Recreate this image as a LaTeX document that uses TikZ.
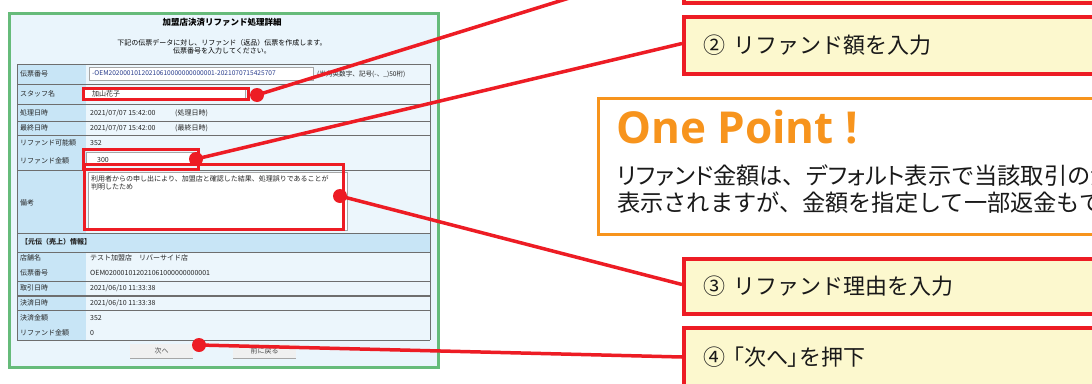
\documentclass[tikz,border=0pt]{standalone}
\usepackage{fontspec}
\setmainfont{Noto Sans CJK JP}
\newfontfamily\opensans{Open Sans}
\newfontfamily\jpprop[RawFeature=+palt]{Noto Sans CJK JP}
\definecolor{scrred}{RGB}{237,28,36}
\definecolor{boxfill}{RGB}{252,248,206}
\definecolor{orange1}{RGB}{247,148,29}
\definecolor{panelgreen}{RGB}{102,187,122}
\definecolor{panelbg}{RGB}{234,245,252}
\definecolor{labelbg}{RGB}{200,229,246}
\definecolor{cellbg}{RGB}{236,246,252}
\definecolor{tline}{RGB}{110,110,110}
\definecolor{inblue}{RGB}{40,60,140}
\newcommand{\kp}[1]{{\jpprop #1}}
\begin{document}
\begin{tikzpicture}[x=1pt,y=-1pt,
  scr/.style={font=\fontsize{7}{8}\selectfont, inner sep=0pt, anchor=west, text=black!85},
  inbox/.style={draw=gray!70, line width=0.6pt, fill=white, anchor=north west, inner sep=0pt},
  callout/.style={draw=scrred, line width=3.5pt, fill=boxfill, anchor=north west, inner xsep=20pt, inner ysep=0pt, align=left, text width=400pt, font=\fontsize{22}{26}\selectfont, text=black!90},
  hl/.style={draw=scrred, line width=3pt, anchor=north west, inner sep=0pt},
  reddot/.style={circle, fill=scrred, minimum size=14pt, inner sep=0pt},
  lead/.style={draw=scrred, line width=3.5pt},
  btn/.style={fill=gray!12, anchor=north west, inner sep=0pt, minimum width=63pt, minimum height=14pt, font=\fontsize{7}{8}\selectfont, text=black!70}]
\useasboundingbox (0,0) rectangle (1092,383);
\clip (0,0) rectangle (1092,383);
\fill[white] (0,0) rectangle (1092,383);

% ---------- screenshot panel ----------
\node[draw=panelgreen, line width=2.5pt, fill=panelbg, anchor=north west, minimum width=429pt, minimum height=354pt, inner sep=0pt] (panel) at (8,12) {};
\node[font=\fontsize{8.5}{10}\selectfont\bfseries, inner sep=0pt] (title) at (222,22) {加盟店決済リファンド処理詳細};
\node[font=\fontsize{7}{8.5}\selectfont, inner sep=0pt, align=center] (sub) at (222,47) {下記の伝票データに対し、リファンド（返品）伝票を作成します。\\伝票番号を入力してください。};

% table background
\fill[labelbg] (17,64) rectangle (86,340);
\fill[cellbg] (86,64) rectangle (430,340);
\fill[labelbg] (17,233) rectangle (430,252);
\foreach \yy in {64,84,104,121,135,170,233,252,281,295,310,340}
  \draw[tline, line width=0.8pt] (17,\yy) -- (430,\yy);
\draw[tline, line width=0.8pt] (17,64) -- (17,340);
\draw[tline, line width=0.8pt] (430,64) -- (430,340);
\draw[tline, line width=0.8pt] (17,296.5) -- (430,296.5);

% labels
\node[scr] (l1) at (20,74) {伝票番号};
\node[scr] (l2) at (20,94) {スタッフ名};
\node[scr] (l3) at (20,113) {処理日時};
\node[scr] (l4) at (20,128) {最終日時};
\node[scr] (l5) at (20,143) {リファンド可能額};
\node[scr] (l6) at (20,161) {リファンド金額};
\node[scr] (l7) at (20,203) {備考};
\node[scr, font=\fontsize{7}{8}\selectfont\bfseries] (l8) at (21,242) {【元伝（売上）情報】};
\node[scr] (l9) at (20,258) {店舗名};
\node[scr] (l10) at (20,273) {伝票番号};
\node[scr] (l11) at (20,288) {取引日時};
\node[scr] (l12) at (20,303) {決済日時};
\node[scr] (l13) at (20,318) {決済金額};
\node[scr] (l14) at (20,333) {リファンド金額};

% inputs
\node[inbox, minimum width=224pt, minimum height=13pt] (in1) at (89,67) {};
\node[scr, text=inblue, font=\fontsize{6.6}{8}\selectfont] (v1) at (92,73.5) {-OEM20200010120210610000000000001-2021070715425707};
\node[scr, font=\fontsize{6.6}{8}\selectfont] (v1b) at (317,74) {(半角英数字、記号(-、\_)50桁)};
\node[inbox, minimum width=161pt, minimum height=11pt] (in2) at (84,88) {};
\node[scr] (v2) at (92,93.5) {加山花子};
\node[scr] (v3) at (90,113) {2021/07/07 15:42:00};
\node[scr] (v3b) at (175,113) {(処理日時)};
\node[scr] (v4) at (90,128) {2021/07/07 15:42:00};
\node[scr] (v4b) at (175,128) {(最終日時)};
\node[scr] (v5) at (90,143) {352};
\node[inbox, minimum width=110pt, minimum height=13pt] (in6) at (86,152) {};
\node[scr] (v6) at (97,160) {300};
\node[inbox, minimum width=259pt, minimum height=58pt] (in7) at (88,172) {};
\node[scr, anchor=north west, align=left, font=\fontsize{7}{8.5}\selectfont] (v7) at (91,175) {利用者からの申し出により、加盟店と確認した結果、処理誤りであることが\\判明したため};
\node[scr] (v9) at (90,258) {テスト加盟店　リバーサイド店};
\node[scr] (v10) at (90,273) {OEM020001012021061000000000001};
\node[scr] (v11) at (90,288) {2021/06/10 11:33:38};
\node[scr] (v12) at (90,303) {2021/06/10 11:33:38};
\node[scr] (v13) at (90,318) {352};
\node[scr] (v14) at (90,333) {0};

% buttons
\node[btn] (next) at (130,344) {次へ};
\node[btn] (back) at (233,344) {前に戻る};
\draw[gray!70, line width=0.8pt] (next.south west) -- (next.south east);
\draw[gray!70, line width=0.8pt] (back.south west) -- (back.south east);

% highlight rectangles
\node[hl, minimum width=165pt, minimum height=11pt] (h2) at (82,87) {};
\node[hl, minimum width=115pt, minimum height=20pt] (h6) at (82,148) {};
\node[hl, minimum width=259pt, minimum height=65pt] (h7) at (83,163) {};

% red dots
\node[reddot] (d1) at (257,95) {};
\node[reddot] (d2) at (196,159) {};
\node[reddot] (d3) at (340,196) {};
\node[reddot] (d4) at (199,345) {};

% callout ends
\coordinate (c1) at (682,-37);
\coordinate (c2) at (682,43.5);
\coordinate (c3) at (682,284.5);
\coordinate (c4) at (682,357);

% leaders
\draw[lead] (d1.center) -- (c1);
\draw[lead] (d2.center) -- (c2);
\draw[lead] (d3.center) -- (c3);
\draw[lead] (d4.center) -- (c4);

\node[callout, minimum height=76pt] (b1) at (682,-75) {};
\node[callout, minimum height=57pt] (b2) at (682,15) {② リファンド額を入力};
\node[callout, minimum height=55pt] (b3) at (682,257) {③ リファンド理由を入力};
\node[callout, minimum height=58pt, anchor=west] (b4) at (682,357) {④ \kp{「}次へ\kp{」}を押下};

% one point box
\node[draw=orange1, line width=2.8pt, fill=white, anchor=north west, minimum width=520pt, minimum height=136pt, inner sep=0pt] (op) at (597,97) {};
\node[anchor=west, inner sep=0pt, text=orange1, font=\opensans\bfseries\fontsize{44}{50}\selectfont] (optitle) at (616,127) {One Point !};
\node[anchor=north west, inner sep=0pt, align=left, text=black!90, font=\fontsize{23.2}{27}\selectfont] (optext) at (617,165) {\kp{リファンド}金額は、\kp{デフォルト}表示で当該取引の決済金額が\\表示されますが、金額を指定して一部返金もできます。};
\end{tikzpicture}
\end{document}
